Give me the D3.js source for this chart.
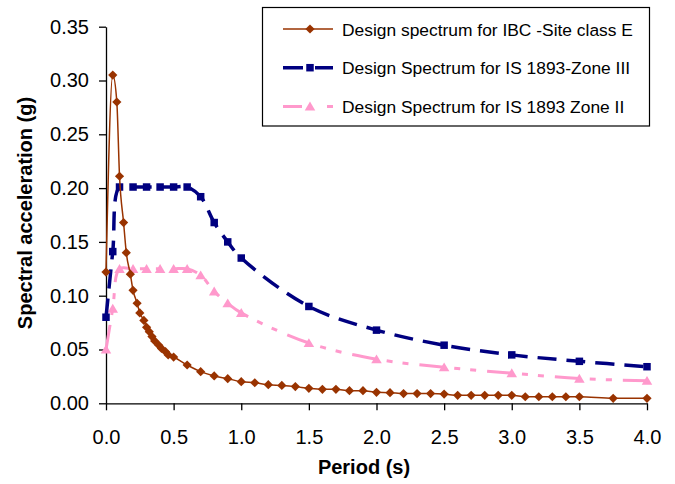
<!DOCTYPE html>
<html><head><meta charset="utf-8">
<script src="https://cdn.jsdelivr.net/npm/d3@7"></script>
<style>
body{margin:0;background:#fff}
svg{display:block}
text{font-family:"Liberation Sans",Arial,sans-serif}
</style>
</head><body>
<svg id="chart" width="675" height="484"></svg>
<script>
// ---- data ----
const periodIBC = [0, 0.05, 0.08, 0.10, 0.13, 0.15, 0.18, 0.20, 0.23, 0.25, 0.28, 0.30, 0.32, 0.34, 0.36, 0.39, 0.41, 0.44, 0.46, 0.50,
  0.6, 0.7, 0.8, 0.9, 1.0, 1.1, 1.2, 1.3, 1.4, 1.5, 1.6, 1.7, 1.8, 1.9, 2.0, 2.1, 2.2, 2.3, 2.4, 2.5,
  2.6, 2.7, 2.8, 2.9, 3.0, 3.1, 3.2, 3.3, 3.4, 3.5, 3.75, 4.0];
const saIBC = [0.122, 0.305, 0.280, 0.211, 0.168, 0.140, 0.120, 0.105, 0.093, 0.084, 0.077, 0.0706, 0.0666, 0.062, 0.058, 0.054, 0.051, 0.048, 0.045, 0.043,
  0.0356, 0.0294, 0.0254, 0.0229, 0.0201, 0.0191, 0.0173, 0.0166, 0.0155, 0.0139, 0.013, 0.013, 0.0117, 0.0117, 0.0102, 0.0099, 0.009, 0.009, 0.009, 0.0086,
  0.0074, 0.0074, 0.0074, 0.0074, 0.0074, 0.0061, 0.0061, 0.0061, 0.0061, 0.0061, 0.0046, 0.0046];
const periodIS = [0, 0.05, 0.1, 0.2, 0.3, 0.4, 0.5, 0.6, 0.7, 0.8, 0.9, 1.0, 1.5, 2.0, 2.5, 3.0, 3.5, 4.0];
const saZone3 = [0.080, 0.141, 0.201, 0.201, 0.201, 0.201, 0.201, 0.201, 0.192, 0.168, 0.150, 0.135, 0.090, 0.068, 0.054, 0.045, 0.039, 0.034];
const saZone2 = [0.050, 0.088, 0.125, 0.125, 0.125, 0.125, 0.125, 0.125, 0.119, 0.104, 0.093, 0.084, 0.056, 0.041, 0.0335, 0.028, 0.023, 0.021];
const seriesNames = ["Design spectrum for IBC -Site class E", "Design Spectrum for IS 1893-Zone III", "Design Spectrum for IS 1893 Zone II"];
const xTicks = [0, 0.5, 1.0, 1.5, 2.0, 2.5, 3.0, 3.5, 4.0];
const yTicks = [0, 0.05, 0.10, 0.15, 0.20, 0.25, 0.30, 0.35];
const xTitle = "Period (s)";
const yTitle = "Spectral acceleration (g)";

// ---- chart ----
const svg = d3.select("#chart");
const x = d3.scaleLinear().domain([0, 4]).range([106, 647]);
const y = d3.scaleLinear().domain([0, 0.35]).range([403.3, 26.7]);

const gx = svg.append("g").attr("transform", `translate(0,${y(0)})`)
  .call(d3.axisBottom(x).tickValues(xTicks).tickFormat(d3.format(".1f")).tickSizeInner(7).tickSizeOuter(0).tickPadding(20));
const gy = svg.append("g").attr("transform", `translate(${x(0)},0)`)
  .call(d3.axisLeft(y).tickValues(yTicks).tickFormat(d3.format(".2f")).tickSizeInner(7).tickSizeOuter(0).tickPadding(10));
[gx, gy].forEach(g => {
  g.select(".domain").attr("stroke", "#000").attr("stroke-width", 1.3);
  g.selectAll(".tick line").attr("stroke", "#000").attr("stroke-width", 1.3);
  g.selectAll(".tick text").attr("font-size", 20).attr("fill", "#000")
    .style("font-family", '"Liberation Sans", Arial, sans-serif');
});

svg.append("text").attr("x", 364).attr("y", 474).attr("text-anchor", "middle")
  .attr("font-size", 20).attr("font-weight", "bold").text(xTitle);
svg.append("text").attr("transform", "translate(32,213) rotate(-90)").attr("text-anchor", "middle")
  .attr("font-size", 20).attr("font-weight", "bold").text(yTitle);

const diamond = r => `M0,${-r}L${r},0L0,${r}L${-r},0Z`;
const square = s => `M${-s/2},${-s/2}h${s}v${s}h${-s}Z`;
const tri = r => `M0,${-r}L${r*1.1},${r*0.85}L${-r*1.1},${r*0.85}Z`;

const series = [
  {name: seriesNames[2], xs: periodIS, ys: saZone2, color: "#FF99CC", width: 3, dash: "25,10,6,10,6,11", marker: tri(4.8), curve: d3.curveCatmullRom.alpha(0.5)},
  {name: seriesNames[1], xs: periodIS, ys: saZone3, color: "#000080", width: 3.5, dash: "19,10", marker: square(7.5), curve: d3.curveCatmullRom.alpha(0.5)},
  {name: seriesNames[0], xs: periodIBC, ys: saIBC, color: "#993300", width: 1.5, dash: null, marker: diamond(4.6), curve: d3.curveMonotoneX}
];

series.forEach(s => {
  const pts = s.xs.map((t, i) => [t, s.ys[i]]);
  const line = d3.line().x(d => x(d[0])).y(d => y(d[1])).curve(s.curve);
  svg.append("path").datum(pts).attr("d", line).attr("fill", "none")
    .attr("stroke", s.color).attr("stroke-width", s.width)
    .attr("stroke-dasharray", s.dash);
  svg.append("g").selectAll("path").data(pts).join("path")
    .attr("transform", d => `translate(${x(d[0])},${y(d[1])})`)
    .attr("d", s.marker).attr("fill", s.color);
});

// ---- legend ----
const lg = svg.append("g");
lg.append("rect").attr("x", 262.5).attr("y", 7.5).attr("width", 387).attr("height", 118.5)
  .attr("fill", "#fff").attr("stroke", "#000").attr("stroke-width", 1.2);
const legendOrder = [series[2], series[1], series[0]];
const legendDash = ["none", "20,12", "19,25,6,100"];
legendOrder.forEach((s, i) => {
  const cy = 29 + i * 38.7;
  lg.append("line").attr("x1", 283).attr("x2", 333).attr("y1", cy).attr("y2", cy)
    .attr("stroke", s.color).attr("stroke-width", i === 0 ? 1.5 : (i === 1 ? 3.5 : 3))
    .attr("stroke-dasharray", legendDash[i] === "none" ? null : legendDash[i]);
  lg.append("path").attr("transform", `translate(310,${cy})`).attr("d", s.marker).attr("fill", s.color);
  lg.append("text").attr("x", 342).attr("y", cy + 6.5).attr("font-size", 17.4).attr("fill", "#000").text(s.name);
});
</script>
</body></html>
